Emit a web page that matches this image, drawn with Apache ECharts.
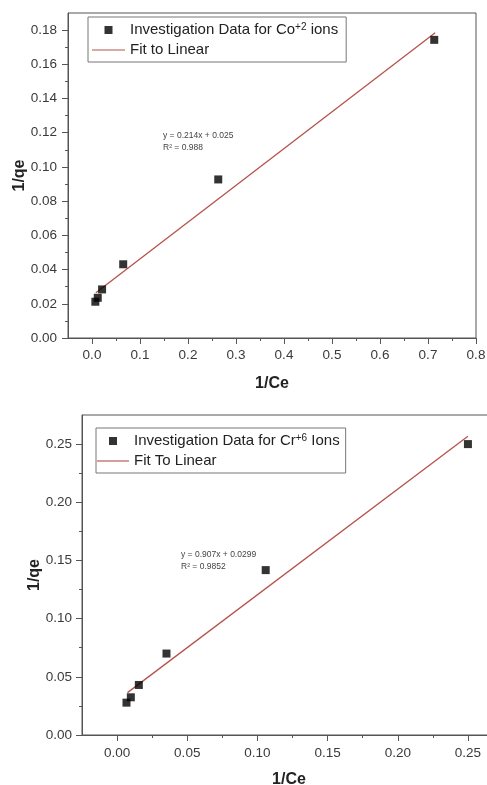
<!DOCTYPE html>
<html>
<head>
<meta charset="utf-8">
<script src="https://cdn.jsdelivr.net/npm/echarts@6/dist/echarts.min.js"></script>
<style>
html,body{margin:0;padding:0;background:#fff;}
#chart{width:487px;height:785px;}
</style>
</head>
<body>
<div id="chart"></div>
<script>
// ---- Data ----
var coName = 'Investigation Data for Co+2 ions';
var coFitName = 'Fit to Linear';
var coX = [0.007, 0.012, 0.021, 0.065, 0.263, 0.713];
var coY = [0.0212, 0.0235, 0.0284, 0.0431, 0.0927, 0.1743];
var coFitX = [0.008, 0.715];
var coFitY = [0.0265, 0.1785];
var coEquation = 'y = 0.214x + 0.025';
var coR2 = 'R\u00B2 = 0.988';

var crName = 'Investigation Data for Cr+6 Ions';
var crFitName = 'Fit To Linear';
var crX = [0.0067, 0.0098, 0.0155, 0.0352, 0.1059, 0.25];
var crY = [0.0278, 0.0324, 0.043, 0.070, 0.1417, 0.25];
var crFitX = [0.0074, 0.25];
var crFitY = [0.0364, 0.2567];
var crEquation = 'y = 0.907x + 0.0299';
var crR2 = 'R\u00B2 = 0.9852';

// tick values
var coXMajor = [0, 0.1, 0.2, 0.3, 0.4, 0.5, 0.6, 0.7, 0.8];
var coXMinor = [0.05, 0.15, 0.25, 0.35, 0.45, 0.55, 0.65, 0.75];
var coYMajor = [0, 0.02, 0.04, 0.06, 0.08, 0.10, 0.12, 0.14, 0.16, 0.18];
var coYMinor = [0.01, 0.03, 0.05, 0.07, 0.09, 0.11, 0.13, 0.15, 0.17];
var crXMajor = [0, 0.05, 0.10, 0.15, 0.20, 0.25];
var crXMinor = [0.025, 0.075, 0.125, 0.175, 0.225];
var crYMajor = [0, 0.05, 0.10, 0.15, 0.20, 0.25];
var crYMinor = [0.025, 0.075, 0.125, 0.175, 0.225];

function pairs(xs, ys){ return xs.map(function(x,i){ return [x, ys[i]]; }); }

var FONT = 'Arial, "Liberation Sans", sans-serif';
var AXC = '#555';
var LBL = '#3a3a3a';
var FITC = '#b5524c';
var SQUARE_ICON = 'path://M0,0H10V10H0Z';
var LINE_ICON = 'path://M0,0H40V1.4H0Z';

function majorAxis(type, gridIndex, min, max, ticks, dec, margin, name, nameGap){
  return {
    type: 'value', gridIndex: gridIndex, min: min, max: max,
    position: type === 'x' ? 'bottom' : 'left',
    name: name, nameLocation: 'middle', nameGap: nameGap, nameMoveOverlap: false,
    nameTextStyle: {fontFamily: FONT, fontSize: 16, fontWeight: 'bold', color: '#222'},
    axisLine: {show: true, onZero: false, lineStyle: {color: AXC, width: 1}},
    axisTick: {show: true, length: 6, customValues: ticks, lineStyle: {color: AXC}},
    axisLabel: {show: true, customValues: ticks, margin: margin, fontFamily: FONT, fontSize: 13.5, color: LBL,
      formatter: function(v){ return (+v).toFixed(dec); }},
    splitLine: {show: false}
  };
}
function minorAxis(type, gridIndex, min, max, ticks){
  return {
    type: 'value', gridIndex: gridIndex, min: min, max: max,
    position: type === 'x' ? 'bottom' : 'left',
    axisLine: {show: false, onZero: false},
    axisTick: {show: true, length: 3, customValues: ticks, lineStyle: {color: AXC}},
    axisLabel: {show: false},
    splitLine: {show: false}
  };
}

function supFormatter(name){
  return name.replace(/\+(\d)/, '{sup|+$1}');
}

var legendText = {
  fontFamily: FONT, fontSize: 15, color: '#222', lineHeight: 16,
  rich: { sup: {fontFamily: FONT, fontSize: 10, color: '#222', verticalAlign: 'top', lineHeight: 16, padding: [0,0,7,0]} }
};

var option = {
  backgroundColor: '#fff',
  animation: false,
  grid: [
    {left: 68, top: 13, width: 408, height: 325, show: true, borderColor: AXC, borderWidth: 1, backgroundColor: 'transparent', containLabel: false, outerBoundsMode: 'none'},
    {left: 82, top: 415, width: 414, height: 320, show: true, borderColor: AXC, borderWidth: 1, backgroundColor: 'transparent', containLabel: false, outerBoundsMode: 'none'}
  ],
  xAxis: [
    majorAxis('x', 0, -0.05, 0.8, coXMajor, 1, 10, '1/Ce', 38),
    minorAxis('x', 0, -0.05, 0.8, coXMinor),
    majorAxis('x', 1, -0.025, 0.27, crXMajor, 2, 11, '1/Ce', 37),
    minorAxis('x', 1, -0.025, 0.27, crXMinor)
  ],
  yAxis: [
    majorAxis('y', 0, 0, 0.19, coYMajor, 2, 11, '1/qe', 40),
    minorAxis('y', 0, 0, 0.19, coYMinor),
    majorAxis('y', 1, 0, 0.275, crYMajor, 2, 10, '1/qe', 39),
    minorAxis('y', 1, 0, 0.275, crYMinor)
  ],
  legend: [
    {
      data: [{name: coName, icon: SQUARE_ICON}, {name: coFitName, icon: LINE_ICON}],
      orient: 'vertical', left: 88, top: 17,
      itemWidth: 33, itemHeight: 8, itemGap: 3,
      padding: [5, 8, 4, 4],
      borderColor: '#777', borderWidth: 1, backgroundColor: '#fff',
      textStyle: legendText, formatter: supFormatter,
      selectedMode: false
    },
    {
      data: [{name: crName, icon: SQUARE_ICON}, {name: crFitName, icon: LINE_ICON}],
      orient: 'vertical', left: 96, top: 428,
      itemWidth: 32, itemHeight: 8, itemGap: 3,
      padding: [5, 6, 4, 1],
      borderColor: '#777', borderWidth: 1, backgroundColor: '#fff',
      textStyle: legendText, formatter: supFormatter,
      selectedMode: false
    }
  ],
  series: [
    {
      name: coFitName, type: 'line', xAxisIndex: 0, yAxisIndex: 0,
      data: pairs(coFitX, coFitY), symbol: 'none', z: 2,
      lineStyle: {color: FITC, width: 1.3}, itemStyle: {color: FITC}
    },
    {
      name: coName, type: 'scatter', xAxisIndex: 0, yAxisIndex: 0,
      data: pairs(coX, coY), symbol: 'rect', symbolSize: 8, z: 3,
      itemStyle: {color: '#000'}
    },
    {
      name: crFitName, type: 'line', xAxisIndex: 2, yAxisIndex: 2,
      data: pairs(crFitX, crFitY), symbol: 'none', z: 2,
      lineStyle: {color: FITC, width: 1.3}, itemStyle: {color: FITC}
    },
    {
      name: crName, type: 'scatter', xAxisIndex: 2, yAxisIndex: 2,
      data: pairs(crX, crY), symbol: 'rect', symbolSize: 8, z: 3,
      itemStyle: {color: '#000'}
    }
  ],
  graphic: [
    {type: 'text', left: 163, top: 130, style: {text: coEquation + '\n' + coR2, fontFamily: FONT, fontSize: 8.5, lineHeight: 12, fill: '#444'}},
    {type: 'text', left: 181, top: 549, style: {text: crEquation + '\n' + crR2, fontFamily: FONT, fontSize: 8.5, lineHeight: 12, fill: '#444'}}
  ]
};

var chart = echarts.init(document.getElementById('chart'), null, {renderer: 'canvas'});
chart.setOption(option);
</script>
</body>
</html>
